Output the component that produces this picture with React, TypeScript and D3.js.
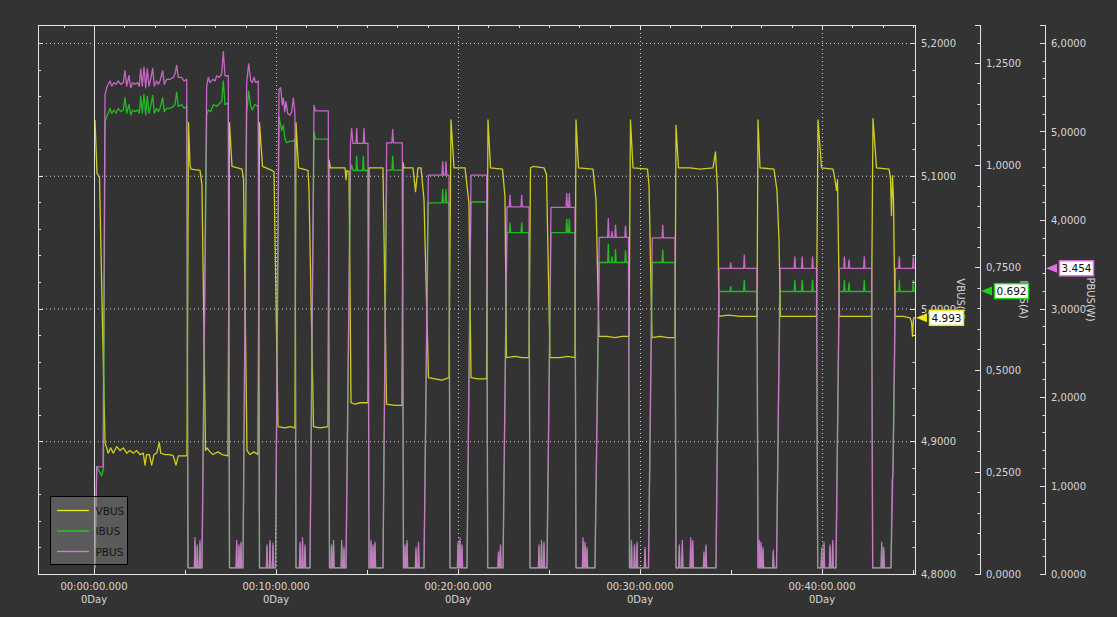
import { useEffect, useRef } from "react";
import * as d3 from "d3";

type Pt = [number, number];

// time in seconds from the cursor at 00:00:00.000, values in V / A / W
const VBUS: Pt[] = [
  [3.3, 5.142], [9.9, 5.102], [18.1, 5.099], [26.4, 5.006], [36.3, 4.899],
  [47.1, 4.891], [55.1, 4.895], [63.6, 4.891], [74.8, 4.896], [85.7, 4.893], [96.6, 4.895], [107.8, 4.891],
  [118.7, 4.893], [129.6, 4.891], [140.8, 4.893], [151.6, 4.890], [162.5, 4.891], [168.1, 4.882], [173.7, 4.890],
  [182.3, 4.890], [190.2, 4.882], [197.8, 4.890], [206.7, 4.891], [215.3, 4.899], [219.9, 4.891], [234.1, 4.890],
  [250.5, 4.890], [261.4, 4.889], [270.3, 4.882], [277.9, 4.889], [289.1, 4.889], [303.3, 4.889], [306.6, 4.889],
  [311.5, 5.140], [316.5, 5.108], [319.8, 5.105], [349.5, 5.104], [356.0, 5.093], [367.6, 4.893],
  [372.5, 4.895], [382.4, 4.892], [392.3, 4.890], [408.8, 4.892], [422.0, 4.890], [441.8, 4.889],
  [446.7, 5.140], [455.0, 5.107], [487.9, 5.105], [492.9, 5.098], [504.4, 4.893],
  [514.3, 4.890], [527.5, 4.892], [540.7, 4.890],
  [545.6, 5.140], [555.5, 5.107], [586.8, 5.104], [593.4, 5.103], [606.6, 4.911],
  [629.7, 4.910], [646.2, 4.911], [662.6, 4.910],
  [665.9, 5.140], [674.2, 5.106], [705.5, 5.104], [708.8, 5.089], [723.6, 4.911],
  [745.1, 4.910], [771.4, 4.911],
  [774.7, 5.112], [779.7, 5.106], [827.5, 5.106], [830.8, 5.097], [834.1, 5.104], [840.7, 5.103], [847.3, 4.929],
  [860.4, 4.928], [876.9, 4.929], [903.3, 4.929],
  [906.6, 5.106], [952.7, 5.106], [964.3, 4.928],
  [992.3, 4.927], [1015.4, 4.927],
  [1018.7, 5.110], [1022.0, 5.106], [1051.6, 5.106], [1059.9, 5.088], [1068.1, 5.106], [1078.0, 5.106],
  [1087.9, 5.082], [1102.7, 4.948],
  [1124.2, 4.947], [1147.2, 4.946], [1170.3, 4.948],
  [1176.9, 5.142], [1186.8, 5.106], [1223.1, 5.106], [1236.3, 5.079], [1242.9, 4.948],
  [1265.9, 4.947], [1294.0, 4.947],
  [1298.9, 5.142], [1307.2, 5.106], [1346.7, 5.105], [1354.9, 5.084], [1359.9, 4.963],
  [1387.9, 4.964], [1411.0, 4.963], [1434.1, 4.963],
  [1439.0, 5.106], [1447.3, 5.107], [1483.5, 5.106], [1491.8, 5.101], [1503.3, 4.963],
  [1536.3, 4.963], [1562.6, 4.964], [1585.7, 4.963],
  [1589.0, 5.142], [1597.3, 5.106], [1645.1, 5.105], [1655.0, 5.082], [1664.8, 4.979],
  [1691.2, 4.979], [1717.6, 4.978], [1740.7, 4.979], [1763.7, 4.979],
  [1768.7, 5.142], [1776.9, 5.106], [1824.7, 5.105], [1829.7, 5.093], [1839.6, 4.978],
  [1866.0, 4.979], [1892.3, 4.978], [1915.4, 4.978],
  [1918.7, 5.138], [1926.9, 5.106], [1964.8, 5.106], [1997.8, 5.105], [2040.6, 5.106], [2048.9, 5.118],
  [2055.5, 5.089], [2060.4, 4.994],
  [2090.1, 4.995], [2129.7, 4.994], [2162.6, 4.994], [2185.7, 4.994],
  [2189.0, 5.142], [2195.6, 5.106], [2241.7, 5.105], [2251.6, 5.089], [2258.2, 5.052], [2263.2, 4.994],
  [2294.5, 4.994], [2327.5, 4.994], [2360.4, 4.994], [2381.9, 4.994],
  [2386.8, 5.142], [2398.4, 5.106], [2436.3, 5.105], [2442.9, 5.097], [2447.8, 5.089], [2451.1, 5.097], [2457.7, 4.994],
  [2492.3, 4.994], [2525.3, 4.994], [2563.2, 4.994],
  [2568.1, 5.143], [2579.7, 5.106], [2620.9, 5.105], [2625.8, 5.098], [2629.1, 5.070], [2632.4, 5.100],
  [2635.7, 5.082], [2640.7, 4.994],
  [2667.0, 4.994], [2690.1, 4.993], [2695.1, 4.990], [2698.4, 4.979], [2701.7, 4.993], [2706.6, 4.993],
];

const IBUS: Pt[] = [
  [3.3, 0.015], [8.9, 0.262], [25.4, 0.240], [31.3, 0.258], [36.3, 1.106], [42.9, 1.120],
  [47.1, 1.127], [52.7, 1.139], [58.4, 1.127], [65.9, 1.135], [72.5, 1.127], [80.1, 1.139], [88.0, 1.131],
  [96.6, 1.135], [102.2, 1.165], [107.8, 1.127], [115.4, 1.148], [121.0, 1.123], [127.6, 1.135], [135.2, 1.131],
  [142.7, 1.135], [149.3, 1.127], [154.0, 1.169], [159.2, 1.127], [164.8, 1.173], [170.5, 1.123], [175.7, 1.169],
  [181.3, 1.127], [186.9, 1.144], [193.5, 1.171], [198.8, 1.127], [206.7, 1.139], [212.0, 1.131], [217.6, 1.139],
  [226.5, 1.165], [231.8, 1.131], [239.7, 1.139], [250.5, 1.139], [261.4, 1.144], [267.0, 1.148], [272.6, 1.179],
  [277.9, 1.144], [289.1, 1.148], [296.7, 1.139], [305.6, 1.144],
  [309.9, 0.015],
  [331, 0.015], [333, 0.080], [335, 0.015], [338.6, 0.015], [340.6, 0.065], [342.6, 0.015], [347.5, 0.015], [349.5, 0.075], [351.5, 0.015],
  [356.0, 0.015],
  [371.5, 1.123], [376.8, 1.135], [384.7, 1.131], [393.3, 1.148], [404.5, 1.144], [415.4, 1.152], [421.0, 1.156],
  [426.3, 1.206], [431.9, 1.148], [442.7, 1.152],
  [446.7, 0.015],
  [468.4, 0.015], [470.4, 0.075], [472.4, 0.015], [476, 0.015], [478, 0.065], [480, 0.015], [482.6, 0.015], [484.6, 0.071], [486.6, 0.015],
  [491.2, 0.015],
  [503.4, 1.127], [510.0, 1.181], [516.6, 1.144], [521.9, 1.135], [529.8, 1.148], [541.6, 1.144],
  [545.6, 0.015],
  [568.3, 0.015], [570.3, 0.065], [572.3, 0.015], [578.2, 0.015], [580.2, 0.075], [582.2, 0.015], [588.1, 0.015], [590.1, 0.069], [592.1, 0.015],
  [598.4, 0.015],
  [609.9, 1.118], [618.8, 1.085], [624.1, 1.098], [629.7, 1.064], [635.3, 1.055], [646.2, 1.059], [657.0, 1.059], [662.6, 1.064],
  [665.9, 0.015],
  [677.1, 0.015], [679.1, 0.071], [681.1, 0.015], [685.4, 0.015], [687.4, 0.080], [689.4, 0.015], [693.6, 0.015], [695.6, 0.065], [697.6, 0.015],
  [712.1, 0.015],
  [725.3, 1.080], [730.2, 1.064], [772.4, 1.064],
  [776.4, 0.015],
  [781, 0.015], [783, 0.065], [785, 0.015], [787.6, 0.015], [789.6, 0.075], [791.6, 0.015],
  [814.6, 0.015], [816.6, 0.075], [818.6, 0.015], [822.2, 0.015], [824.2, 0.059], [826.2, 0.015],
  [830.8, 0.015],
  [845.6, 0.987], [849.5, 1.000], [853.8, 0.987], [863.7, 0.987], [866.0, 1.022], [868.6, 0.987], [885.5, 0.987],
  [887.8, 1.022], [890.1, 0.987], [903.3, 0.987],
  [906.6, 0.015],
  [911.2, 0.015], [913.2, 0.075], [915.2, 0.015], [917.8, 0.015], [919.8, 0.065], [921.8, 0.015], [924.4, 0.015], [926.4, 0.071], [928.4, 0.015],
  [952.7, 0.015],
  [964.9, 0.988], [982.1, 0.988], [984.7, 1.022], [987.4, 0.988], [1016.4, 0.988],
  [1020.3, 0.015],
  [1023.3, 0.015], [1025.3, 0.065], [1027.3, 0.015], [1029.9, 0.015], [1031.9, 0.075], [1033.9, 0.015],
  [1059.5, 0.015], [1061.5, 0.059], [1063.5, 0.015], [1067.8, 0.015], [1069.8, 0.071], [1071.8, 0.015],
  [1087.9, 0.015],
  [1102.1, 0.908], [1147.2, 0.908], [1149.6, 0.941], [1152.2, 0.908], [1158.1, 0.908], [1160.4, 0.941], [1162.8, 0.908], [1170.3, 0.908],
  [1173.6, 0.015],
  [1198, 0.015], [1200, 0.071], [1202, 0.015], [1204.6, 0.015], [1206.6, 0.080], [1208.6, 0.015], [1211.2, 0.015], [1213.2, 0.065], [1215.2, 0.015],
  [1229.7, 0.015],
  [1242.9, 0.910], [1294.6, 0.910],
  [1297.9, 0.015],
  [1331.5, 0.015], [1333.5, 0.049], [1335.5, 0.015], [1338.1, 0.015], [1340.1, 0.065], [1342.1, 0.015],
  [1348.4, 0.015],
  [1361.5, 0.835], [1369.1, 0.835], [1371.4, 0.859], [1373.7, 0.835], [1407.7, 0.835], [1410.0, 0.859], [1412.3, 0.835], [1434.1, 0.835],
  [1437.4, 0.015],
  [1465, 0.015], [1467, 0.065], [1469, 0.015], [1473.3, 0.015], [1475.3, 0.075], [1477.3, 0.015], [1481.5, 0.015], [1483.5, 0.071], [1485.5, 0.015],
  [1493.4, 0.015],
  [1506.6, 0.835], [1556.1, 0.835], [1558.4, 0.868], [1561.4, 0.835], [1564.7, 0.835], [1567.0, 0.868], [1569.3, 0.835], [1585.7, 0.835],
  [1589.0, 0.015],
  [1610.1, 0.015], [1612.1, 0.080], [1614.1, 0.015], [1616.7, 0.015], [1618.7, 0.071], [1620.7, 0.015], [1623.3, 0.015], [1625.3, 0.059], [1627.3, 0.015],
  [1651.6, 0.015],
  [1665.8, 0.762], [1693.2, 0.762], [1695.5, 0.807], [1697.8, 0.762], [1705.4, 0.762], [1707.7, 0.776], [1710.0, 0.762],
  [1717.0, 0.762], [1719.3, 0.794], [1721.6, 0.762], [1749.9, 0.762], [1752.3, 0.791], [1754.6, 0.762], [1762.1, 0.762],
  [1765.4, 0.015],
  [1769.9, 0.015], [1771.9, 0.075], [1773.9, 0.015], [1779.8, 0.015], [1781.8, 0.065], [1783.8, 0.015],
  [1788.1, 0.015], [1790.1, 0.071], [1792.1, 0.015], [1814.5, 0.015], [1816.5, 0.059], [1818.5, 0.015],
  [1828.0, 0.015],
  [1840.5, 0.762], [1872.6, 0.762], [1874.9, 0.793], [1877.2, 0.762], [1915.4, 0.762],
  [1918.7, 0.015],
  [1927.6, 0.015], [1929.6, 0.065], [1931.6, 0.015], [1937.5, 0.015], [1939.5, 0.075], [1941.5, 0.015],
  [1965.2, 0.015], [1967.2, 0.080], [1969.2, 0.015], [1971.8, 0.015], [1973.8, 0.075], [1975.8, 0.015],
  [2009, 0.015], [2011, 0.049], [2013, 0.015], [2015.6, 0.015], [2017.6, 0.065], [2019.6, 0.015],
  [2050.6, 0.015],
  [2060.4, 0.691], [2096.7, 0.691], [2099.0, 0.703], [2101.3, 0.691], [2141.5, 0.691], [2143.8, 0.719], [2146.1, 0.691], [2185.7, 0.691],
  [2189.0, 0.015],
  [2191.3, 0.015], [2193.3, 0.075], [2195.3, 0.015], [2196.9, 0.015], [2198.9, 0.071], [2200.9, 0.015],
  [2203.5, 0.015], [2205.5, 0.059], [2207.5, 0.015], [2237.4, 0.015], [2239.4, 0.053], [2241.4, 0.015],
  [2250.0, 0.015],
  [2261.5, 0.691], [2308.2, 0.691], [2310.5, 0.719], [2312.8, 0.691], [2332.3, 0.691], [2334.6, 0.719], [2336.9, 0.691],
  [2366.6, 0.691], [2368.9, 0.719], [2371.2, 0.691], [2382.1, 0.691],
  [2385.8, 0.015],
  [2397, 0.015], [2399, 0.059], [2401, 0.015], [2404.6, 0.015], [2406.6, 0.071], [2408.6, 0.015],
  [2424.4, 0.015], [2426.4, 0.065], [2428.4, 0.015], [2433.3, 0.015], [2435.3, 0.075], [2437.3, 0.015],
  [2446.1, 0.015],
  [2457.0, 0.691], [2471.6, 0.691], [2473.9, 0.719], [2476.2, 0.691], [2486.7, 0.691], [2489.0, 0.712], [2491.3, 0.691],
  [2537.1, 0.691], [2539.4, 0.719], [2541.7, 0.691], [2563.8, 0.691],
  [2567.1, 0.015],
  [2594.8, 0.015], [2596.8, 0.071], [2598.8, 0.015], [2601.4, 0.015], [2603.4, 0.059], [2605.4, 0.015],
  [2627.5, 0.015], [2630.8, 0.230], [2634.0, 0.240],
  [2642.3, 0.691], [2652.6, 0.691], [2654.9, 0.719], [2657.2, 0.691], [2698.7, 0.691], [2701.0, 0.719], [2703.3, 0.691], [2706.6, 0.692],
];

const PBUS: Pt[] = [
  [3.3, 0.07], [8.9, 1.21], [29.7, 1.21], [36.3, 5.41], [42.9, 5.51],
  [47.1, 5.533], [52.7, 5.571], [58.4, 5.513], [65.9, 5.552], [72.5, 5.533], [80.1, 5.571], [88.0, 5.533],
  [96.6, 5.552], [102.2, 5.687], [107.8, 5.513], [115.4, 5.630], [121.0, 5.494], [127.6, 5.552], [135.2, 5.533],
  [142.7, 5.552], [149.3, 5.513], [154.0, 5.707], [159.2, 5.513], [164.8, 5.727], [170.5, 5.494], [175.7, 5.707],
  [181.3, 5.513], [186.9, 5.590], [193.5, 5.714], [198.8, 5.513], [206.7, 5.571], [212.0, 5.533], [217.6, 5.571],
  [226.5, 5.687], [231.8, 5.533], [239.7, 5.590], [250.5, 5.590], [261.4, 5.611], [267.0, 5.649], [272.6, 5.746],
  [277.9, 5.611], [289.1, 5.611], [296.7, 5.571], [305.6, 5.590],
  [309.9, 0.07],
  [331, 0.07], [333, 0.41], [335, 0.07], [338.6, 0.07], [340.6, 0.33], [342.6, 0.07], [347.5, 0.07], [349.5, 0.38], [351.5, 0.07],
  [356.0, 0.07],
  [371.5, 5.513], [376.8, 5.611], [382.4, 5.552], [391.3, 5.590], [398.9, 5.571], [404.5, 5.630], [413.1, 5.611],
  [421.0, 5.649], [426.3, 5.901], [431.9, 5.630], [442.7, 5.630],
  [446.7, 0.07],
  [468.4, 0.07], [470.4, 0.38], [472.4, 0.07], [476, 0.07], [478, 0.33], [480, 0.07], [482.6, 0.07], [484.6, 0.36], [486.6, 0.07],
  [491.2, 0.07],
  [503.4, 5.552], [510.0, 5.765], [516.6, 5.571], [521.9, 5.552], [527.5, 5.611], [533.1, 5.552], [541.6, 5.571],
  [545.6, 0.07],
  [568.3, 0.07], [570.3, 0.33], [572.3, 0.07], [578.2, 0.07], [580.2, 0.38], [582.2, 0.07], [588.1, 0.07], [590.1, 0.35], [592.1, 0.07],
  [598.4, 0.07],
  [609.9, 5.474], [615.5, 5.494], [620.8, 5.300], [624.1, 5.378], [628.7, 5.222], [633.0, 5.338], [638.6, 5.203],
  [646.2, 5.184], [651.8, 5.222], [657.0, 5.378], [662.6, 5.203],
  [665.9, 0.07],
  [677.1, 0.07], [679.1, 0.36], [681.1, 0.07], [685.4, 0.07], [687.4, 0.41], [689.4, 0.07], [693.6, 0.07], [695.6, 0.33], [697.6, 0.07],
  [712.1, 0.07],
  [725.3, 5.298], [730.2, 5.233], [772.4, 5.233],
  [776.4, 0.07],
  [781, 0.07], [783, 0.33], [785, 0.07], [787.6, 0.07], [789.6, 0.38], [791.6, 0.07],
  [814.6, 0.07], [816.6, 0.38], [818.6, 0.07], [822.2, 0.07], [824.2, 0.30], [826.2, 0.07],
  [830.8, 0.07],
  [845.6, 4.865], [849.5, 5.034], [853.8, 4.865], [863.7, 4.865], [866.0, 5.034], [868.6, 4.865], [887.8, 4.865],
  [890.1, 5.034], [892.7, 4.865], [903.3, 4.865],
  [906.6, 0.07],
  [911.2, 0.07], [913.2, 0.38], [915.2, 0.07], [917.8, 0.07], [919.8, 0.33], [921.8, 0.07], [924.4, 0.07], [926.4, 0.36], [928.4, 0.07],
  [952.7, 0.07],
  [964.9, 4.872], [982.1, 4.872], [984.7, 5.023], [987.4, 4.872], [1016.4, 4.872],
  [1020.3, 0.07],
  [1023.3, 0.07], [1025.3, 0.33], [1027.3, 0.07], [1029.9, 0.07], [1031.9, 0.38], [1033.9, 0.07],
  [1059.5, 0.07], [1061.5, 0.30], [1063.5, 0.07], [1067.8, 0.07], [1069.8, 0.36], [1071.8, 0.07],
  [1087.9, 0.07],
  [1102.1, 4.507], [1147.2, 4.507], [1149.6, 4.657], [1152.2, 4.507], [1158.1, 4.507], [1160.4, 4.657], [1162.8, 4.507], [1170.3, 4.507],
  [1173.6, 0.07],
  [1198, 0.07], [1200, 0.36], [1202, 0.07], [1204.6, 0.07], [1206.6, 0.41], [1208.6, 0.07], [1211.2, 0.07], [1213.2, 0.33], [1215.2, 0.07],
  [1229.7, 0.07],
  [1242.9, 4.507], [1294.6, 4.507],
  [1297.9, 0.07],
  [1331.5, 0.07], [1333.5, 0.25], [1335.5, 0.07], [1338.1, 0.07], [1340.1, 0.33], [1342.1, 0.07],
  [1348.4, 0.07],
  [1361.5, 4.149], [1369.1, 4.149], [1371.4, 4.281], [1373.7, 4.149], [1407.7, 4.149], [1410.0, 4.281], [1412.3, 4.149], [1434.1, 4.149],
  [1437.4, 0.07],
  [1465, 0.07], [1467, 0.33], [1469, 0.07], [1473.3, 0.07], [1475.3, 0.38], [1477.3, 0.07], [1481.5, 0.07], [1483.5, 0.36], [1485.5, 0.07],
  [1493.4, 0.07],
  [1506.6, 4.142], [1556.1, 4.142], [1558.4, 4.300], [1561.4, 4.142], [1564.7, 4.142], [1567.0, 4.300], [1569.3, 4.142], [1585.7, 4.142],
  [1589.0, 0.07],
  [1610.1, 0.07], [1612.1, 0.41], [1614.1, 0.07], [1616.7, 0.07], [1618.7, 0.36], [1620.7, 0.07], [1623.3, 0.07], [1625.3, 0.30], [1627.3, 0.07],
  [1651.6, 0.07],
  [1665.8, 3.803], [1693.2, 3.803], [1695.5, 4.018], [1697.8, 3.803], [1705.4, 3.803], [1707.7, 3.870], [1710.0, 3.803],
  [1717.0, 3.803], [1719.3, 3.942], [1721.6, 3.803], [1749.9, 3.803], [1752.3, 3.931], [1754.6, 3.803], [1762.1, 3.803],
  [1765.4, 0.07],
  [1769.9, 0.07], [1771.9, 0.38], [1773.9, 0.07], [1779.8, 0.07], [1781.8, 0.33], [1783.8, 0.07],
  [1788.1, 0.07], [1790.1, 0.36], [1792.1, 0.07], [1814.5, 0.07], [1816.5, 0.30], [1818.5, 0.07],
  [1828.0, 0.07],
  [1840.5, 3.799], [1872.6, 3.799], [1874.9, 3.942], [1877.2, 3.799], [1915.4, 3.799],
  [1918.7, 0.07],
  [1927.6, 0.07], [1929.6, 0.33], [1931.6, 0.07], [1937.5, 0.07], [1939.5, 0.38], [1941.5, 0.07],
  [1965.2, 0.07], [1967.2, 0.41], [1969.2, 0.07], [1971.8, 0.07], [1973.8, 0.38], [1975.8, 0.07],
  [2009, 0.07], [2011, 0.25], [2013, 0.07], [2015.6, 0.07], [2017.6, 0.33], [2019.6, 0.07],
  [2050.6, 0.07],
  [2060.4, 3.453], [2096.7, 3.453], [2099.0, 3.516], [2101.3, 3.453], [2141.5, 3.453], [2143.8, 3.603], [2146.1, 3.453], [2185.7, 3.453],
  [2189.0, 0.07],
  [2191.3, 0.07], [2193.3, 0.38], [2195.3, 0.07], [2196.9, 0.07], [2198.9, 0.36], [2200.9, 0.07],
  [2203.5, 0.07], [2205.5, 0.30], [2207.5, 0.07], [2237.4, 0.07], [2239.4, 0.27], [2241.4, 0.07],
  [2250.0, 0.07],
  [2261.5, 3.453], [2308.2, 3.453], [2310.5, 3.584], [2312.8, 3.453], [2332.3, 3.453], [2334.6, 3.584], [2336.9, 3.453],
  [2366.6, 3.453], [2368.9, 3.584], [2371.2, 3.453], [2382.1, 3.453],
  [2385.8, 0.07],
  [2397, 0.07], [2399, 0.30], [2401, 0.07], [2404.6, 0.07], [2406.6, 0.36], [2408.6, 0.07],
  [2424.4, 0.07], [2426.4, 0.33], [2428.4, 0.07], [2433.3, 0.07], [2435.3, 0.38], [2437.3, 0.07],
  [2446.1, 0.07],
  [2457.0, 3.453], [2471.6, 3.453], [2473.9, 3.584], [2476.2, 3.453], [2486.7, 3.453], [2489.0, 3.550], [2491.3, 3.453],
  [2537.1, 3.453], [2539.4, 3.584], [2541.7, 3.453], [2563.8, 3.453],
  [2567.1, 0.07],
  [2594.8, 0.07], [2596.8, 0.36], [2598.8, 0.07], [2601.4, 0.07], [2603.4, 0.30], [2605.4, 0.07],
  [2627.5, 0.07], [2634.0, 1.20],
  [2642.3, 3.453], [2652.6, 3.453], [2654.9, 3.584], [2657.2, 3.453], [2698.7, 3.453], [2701.0, 3.584], [2703.3, 3.453], [2706.6, 3.454],
];

const TIME_DOMAIN: [number, number] = [-184.6, 2706.6];
const TIME_TICKS = [0, 600, 1200, 1800, 2400];
const VBUS_TICKS = [4.8, 4.9, 5.0, 5.1, 5.2];
const IBUS_TICKS = [0, 0.25, 0.5, 0.75, 1.0, 1.25];
const PBUS_TICKS = [0, 1, 2, 3, 4, 5, 6];
const SERIES_NAMES = ["VBUS", "IBUS", "PBUS"];
const AXIS_TITLES = ["VBUS(V)", "IBUS(A)", "PBUS(W)"];
const COLORS = ["#eaea1e", "#1ed21e", "#e070e0"];

const W = 1117;
const H = 617;
const PLOT = { left: 38, right: 915, top: 25, bottom: 574 };
const AXIS_X = [915, 980, 1045];
const FONT = "'DejaVu Sans', sans-serif";
const TEXT = "#d6d6d6";
const LINE = "#e4e4e4";

const fmtComma = (v: number) => d3.format(".4f")(v).replace(".", ",");
const pad = (n: number) => String(n).padStart(2, "0");
const fmtTime = (t: number) => `00:${pad(Math.floor(t / 60))}:${pad(Math.round(t % 60))}.000`;

export default function App() {
  const svgRef = useRef<SVGSVGElement>(null);

  useEffect(() => {
    document.body.style.margin = "0";
    document.body.style.background = "#333333";
    if (!svgRef.current) return;

    const svg = d3.select(svgRef.current);
    svg.selectAll("*").remove();
    svg.attr("width", W).attr("height", H).style("font-family", FONT);

    svg.append("rect").attr("width", W).attr("height", H).attr("fill", "#333333");

    const x = d3.scaleLinear().domain(TIME_DOMAIN).range([PLOT.left, PLOT.right]);
    const yV = d3.scaleLinear().domain([4.8, 5.2]).range([PLOT.bottom, 43]);
    const yI = d3.scaleLinear().domain([0, 1.25]).range([PLOT.bottom, 63]);
    const yP = d3.scaleLinear().domain([0, 6]).range([PLOT.bottom, 43]);
    const scales = [yV, yI, yP];
    const data = [VBUS, IBUS, PBUS];

    svg.append("defs").append("clipPath").attr("id", "plot-clip")
      .append("rect")
      .attr("x", PLOT.left).attr("y", PLOT.top)
      .attr("width", PLOT.right - PLOT.left).attr("height", PLOT.bottom - PLOT.top);

    // Grid
    const grid = svg.append("g").attr("stroke", "#cfcfcf").attr("stroke-dasharray", "1,3");
    grid.selectAll("line.h")
      .data(VBUS_TICKS.filter((v) => v > 4.8))
      .join("line")
      .attr("x1", PLOT.left).attr("x2", PLOT.right)
      .attr("y1", (d) => yV(d) + 0.5).attr("y2", (d) => yV(d) + 0.5);
    grid.selectAll("line.v")
      .data(TIME_TICKS.filter((t) => t > 0))
      .join("line")
      .attr("x1", (d) => x(d) + 0.5).attr("x2", (d) => x(d) + 0.5)
      .attr("y1", PLOT.top).attr("y2", PLOT.bottom);

    // cursor at time zero
    svg.append("line")
      .attr("x1", x(0) + 0.5).attr("x2", x(0) + 0.5)
      .attr("y1", PLOT.top).attr("y2", PLOT.bottom)
      .attr("stroke", LINE);

    // Series
    const plot = svg.append("g").attr("clip-path", "url(#plot-clip)");
    data.forEach((series, i) => {
      const line = d3.line<Pt>().x((d) => x(d[0])).y((d) => scales[i](d[1]));
      plot.append("path")
        .attr("d", line(series))
        .attr("fill", "none")
        .attr("stroke", COLORS[i])
        .attr("stroke-width", 1.3)
        .attr("stroke-opacity", 0.85)
        .attr("stroke-linejoin", "round");
    });

    // Frame: top and bottom time axes, left border
    const frame = svg.append("g").attr("stroke", LINE).attr("fill", "none");
    frame.append("line").attr("x1", PLOT.left).attr("x2", PLOT.right)
      .attr("y1", PLOT.top + 0.5).attr("y2", PLOT.top + 0.5);
    frame.append("line").attr("x1", PLOT.left).attr("x2", PLOT.right)
      .attr("y1", PLOT.bottom + 0.5).attr("y2", PLOT.bottom + 0.5);
    frame.append("line").attr("x1", PLOT.left + 0.5).attr("x2", PLOT.left + 0.5)
      .attr("y1", PLOT.top).attr("y2", PLOT.bottom + 1);

    const topTicks = d3.range(-100, TIME_DOMAIN[1], 100);
    frame.selectAll("line.tt")
      .data(topTicks)
      .join("line")
      .attr("x1", (d) => Math.round(x(d)) + 0.5).attr("x2", (d) => Math.round(x(d)) + 0.5)
      .attr("y1", PLOT.top).attr("y2", (d) => PLOT.top + (d % 600 === 0 ? 5 : 3));
    const bottomTicks = d3.range(0, TIME_DOMAIN[1], 300);
    frame.selectAll("line.bt")
      .data(bottomTicks)
      .join("line")
      .attr("x1", (d) => Math.round(x(d)) + 0.5).attr("x2", (d) => Math.round(x(d)) + 0.5)
      .attr("y1", PLOT.bottom + 1).attr("y2", PLOT.bottom - 4);

    // left border carries the VBUS ticks pointing inward
    const vMinor = d3.range(0, 21).map((k) => 4.8 + k * 0.02);
    frame.selectAll("line.lt")
      .data(vMinor)
      .join("line")
      .attr("x1", PLOT.left).attr("x2", (_, k) => PLOT.left + (k % 5 === 0 ? 5 : 3))
      .attr("y1", (d) => Math.round(yV(d)) + 0.5).attr("y2", (d) => Math.round(yV(d)) + 0.5);

    // Time labels
    const tl = svg.append("g").attr("fill", TEXT).attr("font-size", 10).attr("text-anchor", "middle");
    TIME_TICKS.forEach((t) => {
      tl.append("text").attr("x", x(t)).attr("y", 590).text(fmtTime(t));
      tl.append("text").attr("x", x(t)).attr("y", 603).text("0Day");
    });

    // Right value axes
    const axisDefs = [
      { ticks: VBUS_TICKS, minor: vMinor },
      { ticks: IBUS_TICKS, minor: d3.range(0, 27).map((k) => k * 0.05) },
      { ticks: PBUS_TICKS, minor: d3.range(0, 31).map((k) => k * 0.2) },
    ];
    axisDefs.forEach((a, i) => {
      const ax = AXIS_X[i];
      const y = scales[i];
      const g = svg.append("g");
      g.append("line")
        .attr("x1", ax + 0.5).attr("x2", ax + 0.5)
        .attr("y1", PLOT.top).attr("y2", PLOT.bottom + 1)
        .attr("stroke", LINE);
      g.append("line")
        .attr("x1", ax - 5).attr("x2", ax + 1)
        .attr("y1", PLOT.top + 0.5).attr("y2", PLOT.top + 0.5)
        .attr("stroke", LINE);
      g.selectAll("line.tick")
        .data(a.minor)
        .join("line")
        .attr("x1", (_, k) => ax - (k % 5 === 0 ? 5 : 2.5)).attr("x2", ax)
        .attr("y1", (d) => Math.round(y(d)) + 0.5).attr("y2", (d) => Math.round(y(d)) + 0.5)
        .attr("stroke", LINE);
      g.selectAll("text.lbl")
        .data(a.ticks)
        .join("text")
        .attr("x", ax + 6)
        .attr("y", (d) => y(d) + 4)
        .attr("font-size", 10)
        .attr("fill", TEXT)
        .text((d) => fmtComma(d));
      const tx = ax + [45.5, 43.5, 45.5][i];
      g.append("text")
        .attr("transform", `translate(${tx},${(PLOT.top + PLOT.bottom) / 2}) rotate(90)`)
        .attr("text-anchor", "middle")
        .attr("dominant-baseline", "central")
        .attr("font-size", 10)
        .attr("fill", TEXT)
        .text(AXIS_TITLES[i]);
    });

    // Cursor value markers
    data.forEach((series, i) => {
      const ax = AXIS_X[i];
      const last = series[series.length - 1][1];
      const cy = scales[i](last);
      const g = svg.append("g");
      g.append("path")
        .attr("d", `M${ax + 1},${cy} L${ax + 12},${cy - 4.5} L${ax + 12},${cy + 4.5} Z`)
        .attr("fill", COLORS[i]);
      g.append("rect")
        .attr("x", ax + 14.5).attr("y", cy - 7.5)
        .attr("width", 34).attr("height", 15)
        .attr("fill", "#ffffff")
        .attr("stroke", COLORS[i]).attr("stroke-width", 1.5);
      g.append("text")
        .attr("x", ax + 31.5).attr("y", cy + 4)
        .attr("text-anchor", "middle")
        .attr("font-size", 10.5)
        .attr("fill", "#111111")
        .text(last.toFixed(3));
    });

    // Legend
    const lg = svg.append("g");
    lg.append("rect")
      .attr("x", 50.5).attr("y", 496.5).attr("width", 77).attr("height", 68)
      .attr("fill", "#8c8c8c").attr("fill-opacity", 0.45)
      .attr("stroke", "#000000");
    SERIES_NAMES.forEach((name, i) => {
      const ly = 510.5 + i * 20.5;
      lg.append("line")
        .attr("x1", 57).attr("x2", 89).attr("y1", ly).attr("y2", ly)
        .attr("stroke", COLORS[i]).attr("stroke-width", 1.3);
      lg.append("text")
        .attr("x", 95.5).attr("y", ly + 4)
        .attr("font-size", 10.5)
        .attr("fill", "#151515")
        .text(name);
    });
  }, []);

  return (
    <div style={{ position: "absolute", left: 0, top: 0, width: W, height: H }}>
      <svg ref={svgRef} />
    </div>
  );
}
